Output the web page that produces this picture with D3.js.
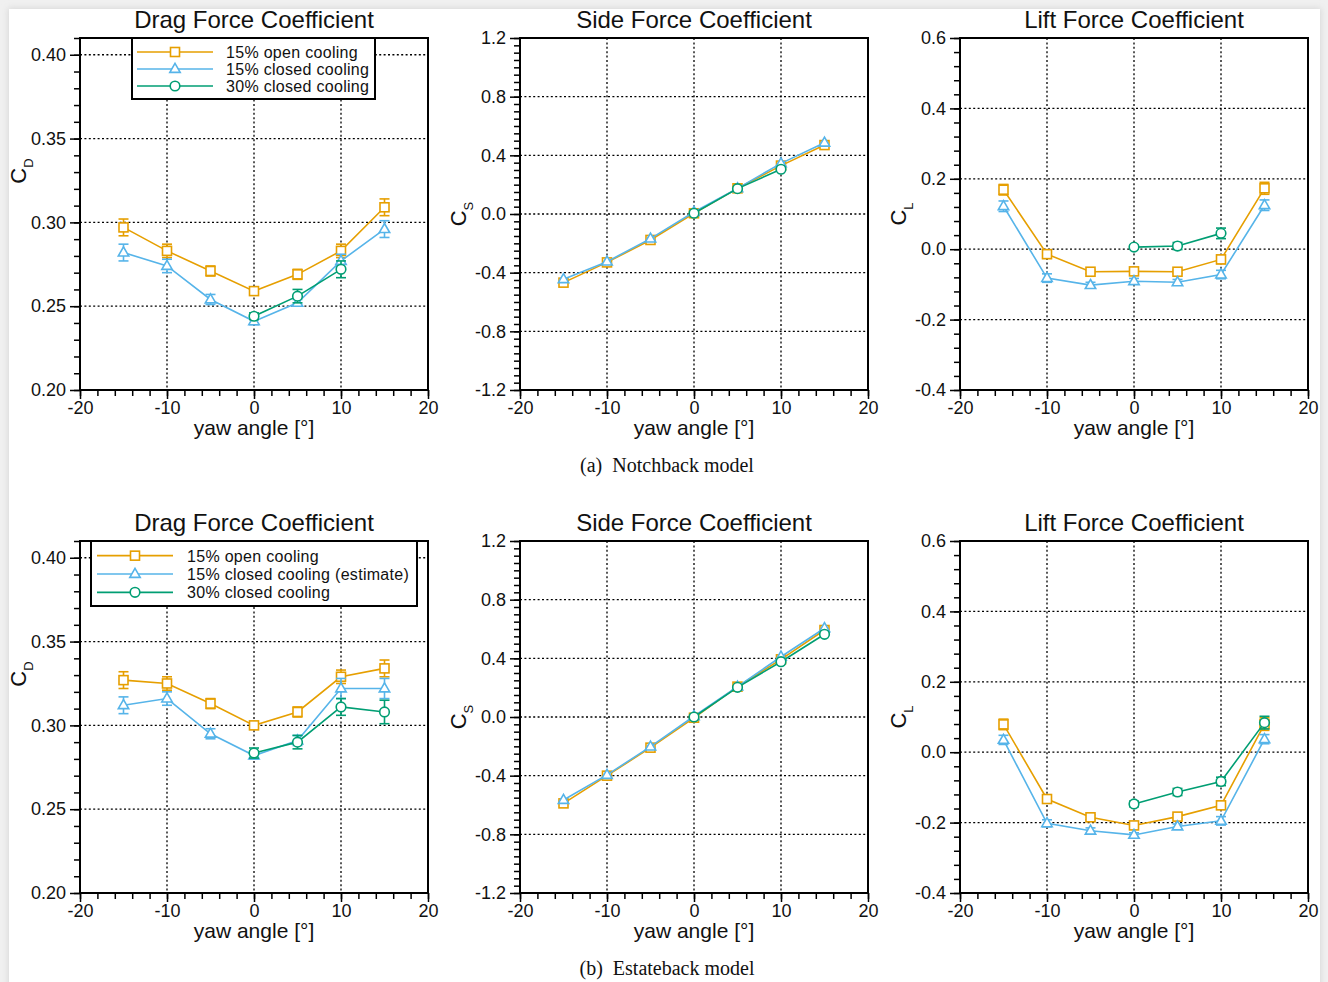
<!DOCTYPE html>
<html>
<head>
<meta charset="utf-8">
<script src="https://cdn.jsdelivr.net/npm/d3@7"></script>
<style>
  html, body { margin: 0; padding: 0; background: #ffffff; }
  svg { display: block; }
  text { font-family: "Liberation Sans", Arial, Helvetica, sans-serif; fill: #111; }
  .caption { font-family: "Liberation Serif", "Times New Roman", serif; white-space: pre; }
</style>
</head>
<body>
<svg id="fig" width="1328" height="982"></svg>
<script>
// ---- yaw angles [deg] ----
const yawAll      = [-15, -10, -5, 0, 5, 10, 15];
const yawNotch30  = [0, 5, 10];
const yawEstate30 = [0, 5, 10, 15];

// ---- Notchback model ----
const notchCdOpen15       = [0.297, 0.283, 0.271, 0.259, 0.269, 0.283, 0.309];
const notchCdOpen15Err    = [0.005, 0.004, 0.003, 0.002, 0.003, 0.004, 0.005];
const notchCdClosed15     = [0.282, 0.274, 0.254, 0.241, 0.252, 0.277, 0.296];
const notchCdClosed15Err  = [0.005, 0.004, 0.003, 0.002, 0.002, 0.004, 0.005];
const notchCdClosed30     = [0.244, 0.256, 0.272];
const notchCdClosed30Err  = [0.002, 0.004, 0.005];

const notchCsOpen15       = [-0.468, -0.330, -0.177, 0.005, 0.175, 0.330, 0.470];
const notchCsClosed15     = [-0.445, -0.325, -0.168, 0.014, 0.175, 0.345, 0.486];
const notchCsClosed30     = [0.005, 0.173, 0.305];

const notchClOpen15       = [0.169, -0.014, -0.064, -0.063, -0.064, -0.029, 0.173];
const notchClOpen15Err    = [0.015, 0.012, 0.005, 0.005, 0.005, 0.012, 0.017];
const notchClClosed15     = [0.122, -0.082, -0.102, -0.091, -0.094, -0.072, 0.125];
const notchClClosed15Err  = [0.015, 0.012, 0.008, 0.008, 0.008, 0.012, 0.015];
const notchClClosed30     = [0.006, 0.009, 0.045];
const notchClClosed30Err  = [0.005, 0.010, 0.015];

// ---- Estateback model ----
const estateCdOpen15      = [0.327, 0.325, 0.313, 0.300, 0.308, 0.329, 0.334];
const estateCdOpen15Err   = [0.005, 0.004, 0.003, 0.002, 0.003, 0.004, 0.005];
const estateCdClosed15    = [0.312, 0.316, 0.295, 0.282, 0.291, 0.322, 0.322];
const estateCdClosed15Err = [0.005, 0.004, 0.003, 0.002, 0.003, 0.006, 0.006];
const estateCdClosed30    = [0.2835, 0.290, 0.311, 0.308];
const estateCdClosed30Err = [0.003, 0.004, 0.005, 0.007];

const estateCsOpen15      = [-0.589, -0.400, -0.209, -0.005, 0.207, 0.393, 0.593];
const estateCsClosed15    = [-0.566, -0.395, -0.202, 0.005, 0.207, 0.411, 0.605];
const estateCsClosed30    = [0.000, 0.202, 0.377, 0.564];

const estateClOpen15      = [0.079, -0.133, -0.185, -0.208, -0.183, -0.151, 0.080];
const estateClOpen15Err   = [0.015, 0.010, 0.007, 0.006, 0.006, 0.010, 0.018];
const estateClClosed15    = [0.035, -0.202, -0.223, -0.235, -0.211, -0.195, 0.037];
const estateClClosed15Err = [0.013, 0.010, 0.008, 0.006, 0.007, 0.012, 0.013];
const estateClClosed30    = [-0.147, -0.113, -0.083, 0.084];
const estateClClosed30Err = [0.008, 0.010, 0.012, 0.018];

// ---- labels ----
const seriesNames   = ["15% open cooling", "15% closed cooling", "30% closed cooling"];
const seriesNamesB  = ["15% open cooling", "15% closed cooling (estimate)", "30% closed cooling"];
const panelTitles   = ["Drag Force Coefficient", "Side Force Coefficient", "Lift Force Coefficient"];
const captions      = ["(a)  Notchback model", "(b)  Estateback model"];
const xTicksMajor   = [-20, -10, 0, 10, 20];
const xLabel        = "yaw angle [°]";

// ---- styling ----
const colors  = ["#E69F00", "#56B4E9", "#009E73"];
const markers = ["square", "triangle", "circle"];

const svg = d3.select("#fig");

// page frame
const defs = svg.append("defs");
const sh = defs.append("filter").attr("id", "pageShadow")
  .attr("x", "-5%").attr("y", "-5%").attr("width", "110%").attr("height", "110%");
sh.append("feGaussianBlur").attr("stdDeviation", 3);
svg.append("rect").attr("width", 1328).attr("height", 982).attr("fill", "#f0f0f0");
svg.append("rect").attr("x", 8).attr("y", 8).attr("width", 1313).attr("height", 990)
  .attr("fill", "#d8d8d8").attr("filter", "url(#pageShadow)");
svg.append("rect").attr("x", 9).attr("y", 9).attr("width", 1311).attr("height", 990)
  .attr("fill", "#ffffff");

const locale = d3.formatLocale({ decimal: ".", thousands: ",", grouping: [3], currency: ["", ""], minus: "-" });

const colLeft = [80, 520, 960];
const rowTop  = [38, 541];
const plotW = 348, plotH = 352;

function stepRange(a, b, step) {
  const n = Math.round((b - a) / step);
  return d3.range(n + 1).map(i => +(a + i * step).toFixed(6));
}

const axisDefs = [
  { domain: [0.20, 0.41], major: stepRange(0.20, 0.40, 0.05), minor: stepRange(0.20, 0.41, 0.01),
    fmt: locale.format(".2f"), sym: "C", sub: "D", labelOffset: 133 },
  { domain: [-1.2, 1.2], major: stepRange(-1.2, 1.2, 0.4), minor: stepRange(-1.2, 1.2, 0.05),
    fmt: locale.format(".1f"), sym: "C", sub: "S", labelOffset: 176 },
  { domain: [-0.4, 0.6], major: stepRange(-0.4, 0.6, 0.2), minor: stepRange(-0.4, 0.6, 0.04),
    fmt: locale.format(".1f"), sym: "C", sub: "L", labelOffset: 176 }
];

const rows = [
  { names: seriesNames, legend: { x: 132, y: 38, w: 243, h: 61, lineX0: 137, lineX1: 213, textX: 226 },
    panels: [
      [ { x: yawAll, y: notchCdOpen15, e: notchCdOpen15Err },
        { x: yawAll, y: notchCdClosed15, e: notchCdClosed15Err },
        { x: yawNotch30, y: notchCdClosed30, e: notchCdClosed30Err } ],
      [ { x: yawAll, y: notchCsOpen15 },
        { x: yawAll, y: notchCsClosed15 },
        { x: yawNotch30, y: notchCsClosed30 } ],
      [ { x: yawAll, y: notchClOpen15, e: notchClOpen15Err },
        { x: yawAll, y: notchClClosed15, e: notchClClosed15Err },
        { x: yawNotch30, y: notchClClosed30, e: notchClClosed30Err } ]
    ] },
  { names: seriesNamesB, legend: { x: 91, y: 541, w: 326, h: 65, lineX0: 97, lineX1: 173, textX: 187 },
    panels: [
      [ { x: yawAll, y: estateCdOpen15, e: estateCdOpen15Err },
        { x: yawAll, y: estateCdClosed15, e: estateCdClosed15Err },
        { x: yawEstate30, y: estateCdClosed30, e: estateCdClosed30Err } ],
      [ { x: yawAll, y: estateCsOpen15 },
        { x: yawAll, y: estateCsClosed15 },
        { x: yawEstate30, y: estateCsClosed30 } ],
      [ { x: yawAll, y: estateClOpen15, e: estateClOpen15Err },
        { x: yawAll, y: estateClClosed15, e: estateClClosed15Err },
        { x: yawEstate30, y: estateClClosed30, e: estateClClosed30Err } ]
    ] }
];

function drawMarker(g, type, cx, cy, color) {
  if (type === "square") {
    g.append("rect").attr("x", cx - 4.5).attr("y", cy - 4.5).attr("width", 9).attr("height", 9)
      .attr("fill", "#fff").attr("stroke", color).attr("stroke-width", 1.6);
  } else if (type === "triangle") {
    const p = [[cx, cy - 5.6], [cx + 5.2, cy + 3.4], [cx - 5.2, cy + 3.4]];
    g.append("path").attr("d", "M" + p.map(d => d.join(",")).join("L") + "Z")
      .attr("fill", "#fff").attr("stroke", color).attr("stroke-width", 1.6);
  } else {
    g.append("circle").attr("cx", cx).attr("cy", cy).attr("r", 4.8)
      .attr("fill", "#fff").attr("stroke", color).attr("stroke-width", 1.6);
  }
}

rows.forEach((row, ri) => {
  const top = rowTop[ri];
  row.panels.forEach((series, ci) => {
    const ad = axisDefs[ci];
    const left = colLeft[ci];
    const x = d3.scaleLinear().domain([-20, 20]).range([left, left + plotW]);
    const y = d3.scaleLinear().domain(ad.domain).range([top + plotH, top]);
    const g = svg.append("g");

    // dotted grid at interior major ticks
    const grid = g.append("g").attr("stroke", "#000").attr("stroke-width", 1.3)
      .attr("stroke-dasharray", "2,2.4");
    xTicksMajor.filter(v => v > -20 && v < 20).forEach(v => {
      grid.append("line").attr("x1", x(v)).attr("x2", x(v)).attr("y1", top).attr("y2", top + plotH);
    });
    ad.major.filter(v => v > ad.domain[0] && v < ad.domain[1]).forEach(v => {
      grid.append("line").attr("x1", left).attr("x2", left + plotW).attr("y1", y(v)).attr("y2", y(v));
    });

    // series: line, error bars, markers
    series.forEach((s, si) => {
      const pts = s.x.map((xv, i) => ({ x: xv, y: s.y[i], e: s.e ? s.e[i] : 0 }));
      const sg = g.append("g");
      sg.append("path").datum(pts)
        .attr("d", d3.line().x(d => x(d.x)).y(d => y(d.y)))
        .attr("fill", "none").attr("stroke", colors[si]).attr("stroke-width", 1.6);
      if (s.e) {
        pts.forEach(d => {
          const cx = x(d.x), y0 = y(d.y - d.e), y1 = y(d.y + d.e);
          const eb = sg.append("g").attr("stroke", colors[si]).attr("stroke-width", 1.6);
          eb.append("line").attr("x1", cx).attr("x2", cx).attr("y1", y0).attr("y2", y1);
          eb.append("line").attr("x1", cx - 5).attr("x2", cx + 5).attr("y1", y0).attr("y2", y0);
          eb.append("line").attr("x1", cx - 5).attr("x2", cx + 5).attr("y1", y1).attr("y2", y1);
        });
      }
      pts.forEach(d => drawMarker(sg, markers[si], x(d.x), y(d.y), colors[si]));
    });

    // legend in the drag panel
    if (ci === 0) {
      const L = row.legend;
      const lg = g.append("g");
      lg.append("rect").attr("x", L.x).attr("y", L.y).attr("width", L.w).attr("height", L.h)
        .attr("fill", "#fff").attr("stroke", "#000").attr("stroke-width", 2);
      const step = (L.h - 10) / 3;
      row.names.forEach((name, si) => {
        const cy = L.y + 5 + step * (si + 0.5) + 0.5;
        lg.append("line").attr("x1", L.lineX0).attr("x2", L.lineX1).attr("y1", cy).attr("y2", cy)
          .attr("stroke", colors[si]).attr("stroke-width", 1.6);
        drawMarker(lg, markers[si], (L.lineX0 + L.lineX1) / 2, cy, colors[si]);
        lg.append("text").attr("x", L.textX).attr("y", cy + 6).attr("font-size", 16)
          .attr("letter-spacing", 0.3).text(name);
      });
    }

    // frame
    g.append("rect").attr("x", left).attr("y", top).attr("width", plotW).attr("height", plotH)
      .attr("fill", "none").attr("stroke", "#000").attr("stroke-width", 2);

    // axes
    const xMinor = g.append("g").attr("transform", `translate(0,${top + plotH})`)
      .call(d3.axisBottom(x).tickValues(stepRange(-20, 20, 2)).tickSize(6).tickFormat(""));
    const xMajor = g.append("g").attr("transform", `translate(0,${top + plotH})`)
      .call(d3.axisBottom(x).tickValues(xTicksMajor).tickSize(9).tickPadding(2)
        .tickFormat(locale.format("d")));
    const yMinor = g.append("g").attr("transform", `translate(${left},0)`)
      .call(d3.axisLeft(y).tickValues(ad.minor).tickSize(6).tickFormat(""));
    const yMajor = g.append("g").attr("transform", `translate(${left},0)`)
      .call(d3.axisLeft(y).tickValues(ad.major).tickSize(10).tickPadding(4).tickFormat(ad.fmt));
    [xMinor, xMajor, yMinor, yMajor].forEach(a => {
      a.select(".domain").remove();
      a.selectAll(".tick line").attr("stroke", "#000").attr("stroke-width", 1.5);
      a.selectAll(".tick text").attr("font-size", 18).attr("fill", "#111")
        .attr("font-family", '"Liberation Sans", Arial, sans-serif');
    });

    // titles and axis labels
    g.append("text").attr("x", left + plotW / 2).attr("y", top - 10).attr("text-anchor", "middle")
      .attr("font-size", 24).text(panelTitles[ci]);
    g.append("text").attr("x", left + plotW / 2).attr("y", top + plotH + 45).attr("text-anchor", "middle")
      .attr("font-size", 21).text(xLabel);
    const yl = g.append("text")
      .attr("transform", `translate(${left - 54},${top + ad.labelOffset}) rotate(-90)`)
      .attr("text-anchor", "middle").attr("font-size", 22);
    yl.append("tspan").text(ad.sym);
    yl.append("tspan").attr("font-size", 13).attr("dy", 7).text(ad.sub);
  });

  svg.append("text").attr("class", "caption").attr("x", 667).attr("y", top + 434)
    .attr("text-anchor", "middle").attr("font-size", 20).text(captions[ri]);
});
</script>
</body>
</html>
